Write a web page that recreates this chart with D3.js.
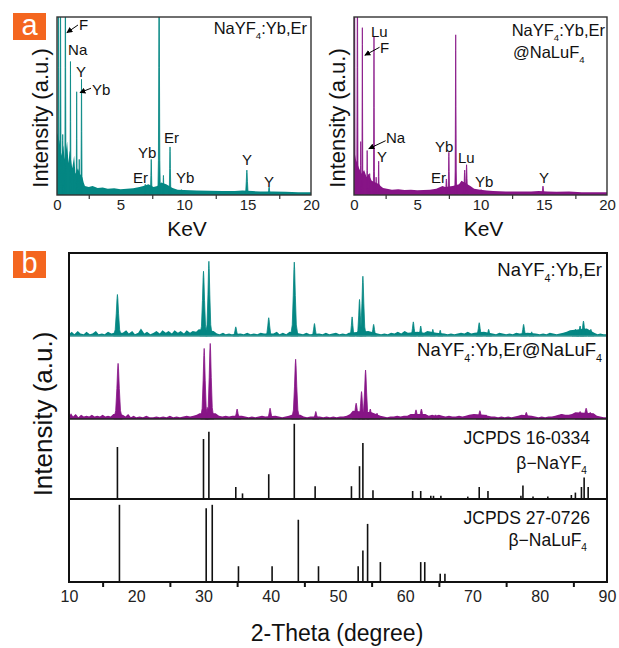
<!DOCTYPE html>
<html>
<head>
<meta charset="utf-8">
<script src="https://cdn.jsdelivr.net/npm/d3@7"></script>
<style>
body { margin: 0; background: #fff; }
svg { display: block; font-family: "Liberation Sans", Arial, sans-serif; }
</style>
</head>
<body>
<div id="chart"></div>
<script>
// ---- data ----

// EDS, keV axis
var edsTicks = [0, 5, 10, 15, 20];
var edsMinor = [2.5, 7.5, 12.5, 17.5];

// peaks: [keV, relative height, half width]
var edsCorePeaks = [
  [0.10, 1.3, 0.07], [0.27, 1.3, 0.08], [0.45, 0.34, 0.06], [0.66, 1.3, 0.07],
  [1.06, 0.75, 0.06], [1.30, 0.15, 0.06], [1.55, 0.58, 0.06], [1.75, 0.20, 0.05],
  [1.93, 0.65, 0.07], [6.95, 0.06, 0.08], [7.42, 0.20, 0.10], [8.04, 1.3, 0.10],
  [8.38, 0.11, 0.08], [8.90, 0.27, 0.10], [9.80, 0.03, 0.10], [14.95, 0.14, 0.16],
  [16.70, 0.045, 0.14]
];
var edsCoreBg = [
  [0, 0], [0.02, 0.35], [0.2, 0.3], [0.35, 0.22], [0.5, 0.28], [0.6, 0.2], [0.8, 0.3],
  [0.9, 0.18], [1.0, 0.25], [1.2, 0.15], [1.35, 0.22], [1.45, 0.12], [1.65, 0.15],
  [1.8, 0.12], [2.0, 0.1], [2.1, 0.07], [2.2, 0.05], [2.5, 0.045], [2.8, 0.05],
  [3.2, 0.04], [3.6, 0.042], [4.0, 0.035], [4.5, 0.038], [5.0, 0.032], [5.5, 0.035],
  [6.0, 0.038], [6.5, 0.045], [6.8, 0.05], [7.2, 0.06], [7.6, 0.045], [7.9, 0.05],
  [8.2, 0.07], [8.6, 0.06], [9.1, 0.04], [9.5, 0.03], [10, 0.028], [10.5, 0.026],
  [11, 0.025], [12, 0.024], [13, 0.022], [14, 0.022], [14.6, 0.025], [15.4, 0.022],
  [16, 0.02], [17, 0.02], [18, 0.018], [19, 0.016], [20, 0.015]
];
var edsShellPeaks = [
  [0.05, 1.3, 0.06], [0.27, 1.3, 0.08], [0.53, 0.30, 0.05], [0.66, 0.94, 0.06],
  [1.04, 0.25, 0.06], [1.24, 0.12, 0.05], [1.58, 0.89, 0.06], [1.75, 0.10, 0.05],
  [1.95, 0.19, 0.07], [6.90, 0.04, 0.15], [7.30, 0.09, 0.12], [7.50, 0.24, 0.09],
  [8.04, 0.90, 0.08], [8.75, 0.14, 0.14], [8.90, 0.17, 0.12], [10.05, 0.03, 0.10],
  [14.94, 0.05, 0.14]
];
var edsShellBg = [
  [0, 0], [0.02, 0.25], [0.15, 0.2], [0.4, 0.15], [0.6, 0.12], [0.8, 0.14], [1.0, 0.1],
  [1.15, 0.12], [1.4, 0.08], [1.7, 0.07], [2.0, 0.06], [2.1, 0.05], [2.3, 0.04],
  [2.6, 0.035], [3.0, 0.03], [3.5, 0.033], [4, 0.028], [4.5, 0.03], [5, 0.026],
  [5.5, 0.028], [6.0, 0.03], [6.5, 0.035], [7.0, 0.05], [7.2, 0.045], [7.8, 0.05],
  [8.3, 0.06], [8.5, 0.08], [9.2, 0.05], [9.5, 0.035], [10, 0.03], [10.5, 0.025],
  [11, 0.022], [12, 0.02], [13, 0.02], [14, 0.02], [14.6, 0.022], [15.3, 0.02],
  [16, 0.018], [17, 0.02], [18, 0.016], [19, 0.015], [20, 0.015]
];

// element labels: [text, keV, intensity] (left edge of the text)
var edsCoreLabels = [
  ["F", 1.73, 0.955], ["Na", 0.87, 0.815], ["Y", 1.5, 0.69], ["Yb", 2.76, 0.59],
  ["Yb", 6.38, 0.236], ["Er", 8.43, 0.32], ["Er", 5.98, 0.10], ["Yb", 9.37, 0.10],
  ["Y", 14.57, 0.197], ["Y", 16.3, 0.073]
];
var edsShellLabels = [
  ["Lu", 1.34, 0.916], ["F", 2.06, 0.826], ["Na", 2.53, 0.32], ["Y", 1.82, 0.213],
  ["Yb", 6.4, 0.27], ["Lu", 8.22, 0.208], ["Er", 6.09, 0.096], ["Yb", 9.57, 0.073],
  ["Y", 14.62, 0.10]
];
// arrows: [fromKeV, fromI, toKeV, toI]
var edsCoreArrows = [[1.65, 0.955, 0.78, 0.912], [2.68, 0.60, 1.81, 0.575]];
var edsShellArrows = [[2.02, 0.83, 0.86, 0.785], [2.50, 0.305, 1.17, 0.26]];

// XRD, 2-theta axis
var xrdTicks = [10, 20, 30, 40, 50, 60, 70, 80, 90];
var xrdMinor = [15, 25, 35, 45, 55, 65, 75, 85];

// [2theta, relative height, half width]
var xrdCorePeaks = [
  [17.2, 0.50, 0.6], [30.0, 0.78, 0.55], [30.8, 0.90, 0.5], [34.8, 0.11, 0.45],
  [39.7, 0.22, 0.5], [43.5, 0.89, 0.55], [46.5, 0.15, 0.45], [52.1, 0.23, 0.4],
  [53.2, 0.44, 0.45], [53.7, 0.72, 0.5], [55.3, 0.14, 0.45], [61.2, 0.17, 0.45],
  [62.3, 0.12, 0.4], [64.1, 0.08, 0.35], [65.2, 0.07, 0.35], [71.0, 0.16, 0.5],
  [72.4, 0.08, 0.4], [77.6, 0.14, 0.45], [78.8, 0.05, 0.35], [85.3, 0.08, 0.5],
  [86.0, 0.12, 0.5], [86.5, 0.18, 0.5], [87.6, 0.08, 0.4]
];
var xrdCoreBg = [
  [10, 0.02], [10.4, 0.05], [10.8, 0.02], [11.3, 0.06], [11.7, 0.03], [12.2, 0.02],
  [12.6, 0.05], [13.1, 0.02], [13.5, 0.03], [14.0, 0.06], [14.4, 0.02], [14.9, 0.03],
  [15.3, 0.02], [15.8, 0.05], [16.3, 0.03], [16.7, 0.04], [18.0, 0.04], [18.5, 0.07],
  [18.9, 0.03], [19.4, 0.06], [19.8, 0.02], [20.3, 0.04], [20.7, 0.09], [21.2, 0.03],
  [21.6, 0.05], [22.1, 0.02], [22.6, 0.04], [23.0, 0.06], [23.5, 0.03], [23.9, 0.07],
  [24.4, 0.04], [24.8, 0.06], [25.3, 0.03], [25.7, 0.07], [26.2, 0.04], [26.6, 0.06],
  [27.1, 0.03], [27.5, 0.07], [28.0, 0.04], [28.4, 0.06], [28.9, 0.05], [29.3, 0.08],
  [31.5, 0.06], [32.0, 0.03], [32.4, 0.02], [32.9, 0.04], [33.3, 0.02], [33.8, 0.03],
  [34.2, 0.02], [35.5, 0.03], [36.0, 0.02], [36.5, 0.04], [37.0, 0.02], [37.5, 0.03],
  [38.0, 0.02], [38.5, 0.04], [39.0, 0.03], [40.4, 0.03], [40.9, 0.05], [41.3, 0.02],
  [41.8, 0.04], [42.3, 0.02], [42.8, 0.05], [44.3, 0.03], [44.8, 0.02], [45.3, 0.04],
  [45.8, 0.02], [47.2, 0.03], [47.7, 0.02], [48.2, 0.04], [48.7, 0.02], [49.2, 0.03],
  [49.7, 0.04], [50.2, 0.02], [50.7, 0.03], [51.2, 0.02], [51.6, 0.04], [54.5, 0.06],
  [55.9, 0.03], [56.4, 0.02], [56.9, 0.03], [57.4, 0.02], [57.9, 0.04], [58.4, 0.03],
  [58.9, 0.05], [59.4, 0.03], [59.9, 0.06], [60.4, 0.04], [61.8, 0.05], [62.8, 0.04],
  [63.3, 0.06], [64.6, 0.04], [65.8, 0.03], [66.3, 0.02], [66.8, 0.03], [67.3, 0.02],
  [67.8, 0.03], [68.3, 0.04], [68.8, 0.03], [69.3, 0.05], [69.8, 0.03], [70.3, 0.04],
  [71.7, 0.05], [73.0, 0.03], [73.5, 0.02], [74.0, 0.04], [74.5, 0.03], [75.0, 0.02],
  [75.5, 0.03], [76.0, 0.02], [76.5, 0.04], [77.0, 0.03], [78.2, 0.04], [79.4, 0.03],
  [80.0, 0.02], [80.5, 0.03], [81.0, 0.02], [81.5, 0.04], [82.0, 0.03], [82.5, 0.02],
  [83.0, 0.03], [83.5, 0.04], [84.0, 0.05], [84.5, 0.07], [87.0, 0.09], [88.1, 0.04],
  [88.6, 0.02], [89.0, 0.03], [89.5, 0.02], [90, 0.02]
];
var xrdShellPeaks = [
  [17.3, 0.67, 0.65], [30.1, 0.85, 0.55], [30.55, 0.14, 0.35], [31.0, 0.91, 0.55],
  [35.0, 0.12, 0.5], [39.9, 0.13, 0.5], [43.7, 0.72, 0.6], [46.7, 0.09, 0.45],
  [52.7, 0.19, 0.6], [53.5, 0.33, 0.5], [54.1, 0.59, 0.55], [54.8, 0.12, 0.5],
  [55.8, 0.07, 0.45], [61.6, 0.11, 0.55], [62.4, 0.12, 0.55], [64.5, 0.05, 0.5],
  [71.1, 0.10, 0.55], [72.0, 0.05, 0.45], [78.0, 0.08, 0.55], [83.2, 0.06, 0.5],
  [86.0, 0.09, 0.7], [86.9, 0.13, 0.65], [87.5, 0.08, 0.5]
];
var xrdShellBg = [
  [10, 0.03], [10.3, 0.07], [10.6, 0.03], [11.0, 0.06], [11.4, 0.02], [11.8, 0.05],
  [12.2, 0.03], [12.6, 0.04], [13.0, 0.03], [13.4, 0.05], [13.8, 0.03], [14.2, 0.04],
  [14.6, 0.03], [15.0, 0.05], [15.4, 0.03], [15.8, 0.04], [16.2, 0.03], [16.6, 0.06],
  [18.0, 0.05], [18.4, 0.03], [18.8, 0.06], [19.2, 0.02], [19.6, 0.04], [20.0, 0.02],
  [20.5, 0.03], [21.0, 0.02], [21.5, 0.04], [22.0, 0.02], [22.5, 0.02], [23.0, 0.03],
  [23.5, 0.02], [24.0, 0.03], [24.5, 0.02], [25.0, 0.04], [25.5, 0.02], [26.0, 0.03],
  [26.5, 0.02], [27.0, 0.03], [27.5, 0.04], [28.0, 0.03], [28.5, 0.04], [29.0, 0.05],
  [29.4, 0.07], [31.8, 0.07], [32.3, 0.04], [32.8, 0.03], [33.3, 0.04], [33.8, 0.03],
  [34.3, 0.04], [35.7, 0.04], [36.2, 0.03], [36.7, 0.02], [37.2, 0.03], [37.7, 0.02],
  [38.2, 0.03], [38.7, 0.04], [39.2, 0.03], [40.7, 0.04], [41.2, 0.03], [41.7, 0.02],
  [42.2, 0.03], [42.7, 0.04], [43.1, 0.05], [44.4, 0.05], [44.9, 0.03], [45.4, 0.02],
  [45.9, 0.03], [47.3, 0.03], [47.8, 0.02], [48.3, 0.03], [48.8, 0.02], [49.3, 0.03],
  [49.8, 0.02], [50.3, 0.03], [50.8, 0.03], [51.3, 0.04], [51.8, 0.06], [52.2, 0.1],
  [55.0, 0.08], [56.3, 0.04], [56.8, 0.03], [57.3, 0.02], [57.8, 0.03], [58.3, 0.03],
  [58.8, 0.04], [59.3, 0.03], [59.8, 0.04], [60.3, 0.04], [60.8, 0.06], [63.0, 0.06],
  [63.5, 0.04], [64.0, 0.05], [64.5, 0.04], [65.0, 0.05], [65.5, 0.04], [66.0, 0.03],
  [66.5, 0.04], [67.0, 0.03], [67.5, 0.03], [68.0, 0.04], [68.5, 0.03], [69.0, 0.04],
  [69.5, 0.05], [70.2, 0.06], [71.8, 0.05], [72.3, 0.04], [72.8, 0.03], [73.3, 0.03],
  [73.8, 0.02], [74.3, 0.03], [74.8, 0.02], [75.3, 0.03], [75.8, 0.02], [76.3, 0.03],
  [76.8, 0.04], [77.3, 0.05], [78.8, 0.04], [79.3, 0.03], [79.8, 0.02], [80.3, 0.03],
  [80.8, 0.02], [81.3, 0.03], [81.8, 0.03], [82.3, 0.04], [82.8, 0.05], [83.3, 0.06],
  [83.8, 0.05], [84.3, 0.05], [84.8, 0.06], [85.3, 0.08], [88.0, 0.07], [88.5, 0.04],
  [89.0, 0.03], [89.5, 0.02], [90, 0.02]
];

// standard cards: [2theta, relative intensity]
var cardNaYF4 = [
  [17.2, 0.65], [30.0, 0.75], [30.8, 0.84], [34.8, 0.15], [35.8, 0.07], [39.7, 0.31],
  [43.5, 0.94], [46.6, 0.16], [52.0, 0.16], [53.2, 0.41], [53.7, 0.70], [55.2, 0.11],
  [61.1, 0.10], [62.3, 0.10], [63.8, 0.04], [64.2, 0.04], [65.3, 0.04], [69.3, 0.03],
  [71.0, 0.15], [72.3, 0.10], [77.2, 0.04], [77.5, 0.17], [79.0, 0.03], [81.2, 0.03],
  [84.7, 0.05], [85.3, 0.08], [86.2, 0.15], [86.6, 0.27], [87.2, 0.15]
];
var cardNaLuF4 = [
  [17.5, 0.93], [30.4, 0.89], [31.3, 0.93], [35.2, 0.19], [40.2, 0.19], [44.1, 0.75],
  [47.1, 0.19], [53.0, 0.19], [53.7, 0.38], [54.4, 0.70], [56.3, 0.24], [62.3, 0.24],
  [62.9, 0.24], [65.2, 0.10], [65.9, 0.10]
];

// ---- drawing ----
var width = 619, height = 648;
var teal = "#048783", purple = "#871486", orange = "#f4661f", frameCol = "#333";

var svg = d3.select("#chart").append("svg")
    .attr("width", width)
    .attr("height", height);

svg.append("defs").append("marker")
    .attr("id", "arrow")
    .attr("viewBox", "0 0 10 10")
    .attr("refX", 9).attr("refY", 5)
    .attr("markerWidth", 6).attr("markerHeight", 6)
    .attr("markerUnits", "userSpaceOnUse")
    .attr("orient", "auto")
  .append("path")
    .attr("d", "M0,0 L10,5 L0,10 z")
    .attr("fill", "#000");

// outline used for every listed peak
function peakShape(p) {
  var c = p[0], h = p[1], w = p[2];
  return [[c - w, 0], [c - 0.55 * w, h * 0.15], [c - 0.28 * w, h * 0.55], [c - 0.1 * w, h * 0.9],
          [c, h], [c + 0.1 * w, h * 0.9], [c + 0.28 * w, h * 0.55], [c + 0.55 * w, h * 0.15], [c + w, 0]];
}

function drawTrace(parent, x, y, bg, peaks, color) {
  var g = parent.append("g");
  var area = d3.area()
      .x(function(d) { return x(d[0]); })
      .y0(y(0))
      .y1(function(d) { return y(d[1]); });
  g.append("path").datum(bg)
      .attr("d", area)
      .attr("fill", color);
  g.selectAll("path.pk")
      .data(peaks)
      .enter()
      .append("path")
      .attr("class", "pk")
      .attr("d", function(d) { return area(peakShape(d)); })
      .attr("fill", color)
      .attr("stroke", color)
      .attr("stroke-width", 0.8);
}

// text with chemical subscripts, parts = [[text, isSub], ...]
function chem(g, x, y, parts, size, anchor) {
  var t = g.append("text")
      .attr("x", x).attr("y", y)
      .attr("font-size", size)
      .attr("text-anchor", anchor || "start")
      .attr("fill", "#111");
  var shifted = false;
  parts.forEach(function(p) {
    var s = t.append("tspan").text(p[0]);
    if (p[1] && !shifted) { s.attr("dy", size * 0.3).attr("font-size", size * 0.58); shifted = true; }
    else if (!p[1] && shifted) { s.attr("dy", -size * 0.3); shifted = false; }
  });
  return t;
}

function letterBox(x, y, letter) {
  svg.append("rect")
      .attr("x", x).attr("y", y)
      .attr("width", 33).attr("height", 27)
      .attr("fill", orange);
  svg.append("text")
      .attr("x", x + 16.5).attr("y", y + 22)
      .attr("text-anchor", "middle")
      .attr("font-size", 29)
      .attr("fill", "#fff")
      .text(letter);
}

// ---- panel a: EDS ----
function edsPanel(x0, x1, bg, peaks, color, labels, arrows, clipId) {
  var x = d3.scaleLinear().domain([0, 20]).range([x0, x1]);
  var y = d3.scaleLinear().domain([0, 1]).range([195, 17]);
  var g = svg.append("g");

  g.append("clipPath").attr("id", clipId)
    .append("rect")
      .attr("x", x0).attr("y", 17)
      .attr("width", x1 - x0).attr("height", 178);

  var plot = g.append("g").attr("clip-path", "url(#" + clipId + ")");
  drawTrace(plot, x, y, bg, peaks, color);

  g.append("rect")
      .attr("x", x0).attr("y", 17)
      .attr("width", x1 - x0).attr("height", 178)
      .attr("fill", "none")
      .attr("stroke", frameCol)
      .attr("stroke-width", 1.4);

  // minor ticks
  g.append("g")
      .attr("transform", "translate(0,195)")
      .call(d3.axisBottom(x).tickValues(edsMinor).tickSize(4).tickFormat(""))
      .call(function(a) { a.select(".domain").remove(); a.selectAll("line").attr("stroke", frameCol).attr("stroke-width", 1.2); });

  g.append("g")
      .attr("transform", "translate(0,196)")
      .call(d3.axisBottom(x).tickValues(edsTicks).tickSize(0).tickPadding(3))
      .call(function(a) {
        a.select(".domain").remove();
        a.selectAll("text").attr("font-size", 15).attr("fill", "#222")
          .attr("font-family", "Liberation Sans, Arial, sans-serif");
      });

  g.append("text")
      .attr("x", (x0 + x1) / 2 + 3).attr("y", 236)
      .attr("text-anchor", "middle")
      .attr("font-size", 21)
      .attr("fill", "#111")
      .text("KeV");

  g.append("text")
      .attr("transform", "translate(" + (x0 - 9) + ",118) rotate(-90)")
      .attr("text-anchor", "middle")
      .attr("font-size", 22)
      .attr("fill", "#111")
      .text("Intensity (a.u.)");

  g.selectAll("text.el")
      .data(labels)
      .enter()
      .append("text")
      .attr("class", "el")
      .attr("x", function(d) { return x(d[1]); })
      .attr("y", function(d) { return y(d[2]) + 5.3; })
      .attr("font-size", 15)
      .attr("fill", "#111")
      .text(function(d) { return d[0]; });

  g.selectAll("line.arr")
      .data(arrows)
      .enter()
      .append("line")
      .attr("x1", function(d) { return x(d[0]); })
      .attr("y1", function(d) { return y(d[1]); })
      .attr("x2", function(d) { return x(d[2]); })
      .attr("y2", function(d) { return y(d[3]); })
      .attr("stroke", "#000")
      .attr("stroke-width", 1)
      .attr("marker-end", "url(#arrow)");
  return g;
}

var ga = edsPanel(57, 311, edsCoreBg, edsCorePeaks, teal, edsCoreLabels, edsCoreArrows, "clipA1");
chem(ga, 307, 34, [["NaYF"], ["4", 1], [":Yb,Er"]], 16.5, "end");

var gb = edsPanel(354, 607, edsShellBg, edsShellPeaks, purple, edsShellLabels, edsShellArrows, "clipA2");
chem(gb, 605, 36, [["NaYF"], ["4", 1], [":Yb,Er"]], 16.5, "end");
chem(gb, 513, 58, [["@NaLuF"], ["4", 1]], 16.5, "start");

letterBox(13, 13, "a");

// ---- panel b: XRD ----
var xb0 = 69, xb1 = 607;
var xx = d3.scaleLinear().domain([10, 90]).range([xb0, xb1]);
var yCore = d3.scaleLinear().domain([0, 1]).range([336, 253]);
var yShell = d3.scaleLinear().domain([0, 1]).range([419, 336]);
var yCard1 = d3.scaleLinear().domain([0, 1]).range([499, 419]);
var yCard2 = d3.scaleLinear().domain([0, 1]).range([582, 499]);

var gx = svg.append("g");
gx.append("clipPath").attr("id", "clipB")
  .append("rect").attr("x", xb0).attr("y", 253).attr("width", xb1 - xb0).attr("height", 329);
var px = gx.append("g").attr("clip-path", "url(#clipB)");

drawTrace(px, xx, yCore, xrdCoreBg, xrdCorePeaks, teal);
drawTrace(px, xx, yShell, xrdShellBg, xrdShellPeaks, purple);

function sticks(data, y) {
  px.append("g").selectAll("line")
      .data(data)
      .enter()
      .append("line")
      .attr("x1", function(d) { return xx(d[0]); })
      .attr("x2", function(d) { return xx(d[0]); })
      .attr("y1", y(0))
      .attr("y2", function(d) { return y(d[1]); })
      .attr("stroke", "#111")
      .attr("stroke-width", 1.6);
}
sticks(cardNaYF4, yCard1);
sticks(cardNaLuF4, yCard2);

// separators
gx.append("line").attr("x1", xb0).attr("x2", xb1).attr("y1", 336).attr("y2", 336)
    .attr("stroke", "#3b9995").attr("stroke-width", 1.5);
gx.append("line").attr("x1", xb0).attr("x2", xb1).attr("y1", 419).attr("y2", 419)
    .attr("stroke", "#222").attr("stroke-width", 1.6);
gx.append("line").attr("x1", xb0).attr("x2", xb1).attr("y1", 499).attr("y2", 499)
    .attr("stroke", "#111").attr("stroke-width", 2);

gx.append("rect")
    .attr("x", xb0).attr("y", 253)
    .attr("width", xb1 - xb0).attr("height", 329)
    .attr("fill", "none")
    .attr("stroke", "#111")
    .attr("stroke-width", 2);

gx.append("g")
    .attr("transform", "translate(0,582)")
    .call(d3.axisBottom(xx).tickValues(xrdMinor).tickSize(5).tickFormat(""))
    .call(function(a) { a.select(".domain").remove(); a.selectAll("line").attr("stroke", "#111").attr("stroke-width", 2); });

gx.append("g")
    .attr("transform", "translate(0,589)")
    .call(d3.axisBottom(xx).tickValues(xrdTicks).tickSize(0).tickPadding(2))
    .call(function(a) {
      a.select(".domain").remove();
      a.selectAll("text").attr("font-size", 16).attr("fill", "#222")
        .attr("font-family", "Liberation Sans, Arial, sans-serif");
    });

gx.append("text")
    .attr("x", 337).attr("y", 641)
    .attr("text-anchor", "middle")
    .attr("font-size", 23)
    .attr("fill", "#111")
    .text("2-Theta (degree)");

gx.append("text")
    .attr("transform", "translate(52,414) rotate(-90)")
    .attr("text-anchor", "middle")
    .attr("font-size", 26)
    .attr("fill", "#111")
    .text("Intensity (a.u.)");

chem(gx, 602, 276, [["NaYF"], ["4", 1], [":Yb,Er"]], 18.5, "end");
chem(gx, 602, 356, [["NaYF"], ["4", 1], [":Yb,Er@NaLuF"], ["4", 1]], 18.5, "end");
chem(gx, 590, 444, [["JCPDS 16-0334"]], 17.5, "end");
chem(gx, 587, 469, [["\u03b2\u2212NaYF"], ["4", 1]], 17.5, "end");
chem(gx, 590, 524, [["JCPDS 27-0726"]], 17.5, "end");
chem(gx, 587, 546, [["\u03b2\u2212NaLuF"], ["4", 1]], 17.5, "end");

letterBox(13, 251, "b");
</script>
</body>
</html>
